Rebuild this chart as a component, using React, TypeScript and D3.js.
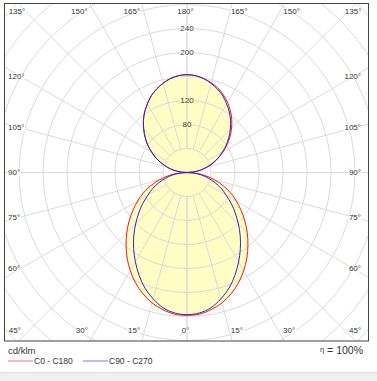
import React, { useEffect, useRef } from 'react';
import * as d3 from 'd3';

// gamma angles (0 = straight down, 180 = straight up)
const GAMMA = [0, 5, 10, 15, 20, 25, 30, 35, 40, 45, 50, 55, 60, 65, 70, 75, 80, 85, 90,
  95, 100, 105, 110, 115, 120, 125, 130, 135, 140, 145, 150, 155, 160, 165, 170, 175, 180];

// cd/klm
const C0 = [238, 237, 232, 225, 215, 203, 189, 174, 158, 142, 126, 110, 95, 80, 64, 48, 32, 16, 0,
  12, 23, 35, 47, 58, 70, 82, 94, 105, 116, 126, 135, 143, 150, 155, 159, 162, 163];
const C180 = [238, 237, 232, 225, 215, 203, 189, 174, 158, 142, 126, 110, 95, 80, 64, 48, 32, 16, 0,
  11, 23, 34, 45, 57, 68, 80, 91, 102, 113, 123, 132, 141, 148, 154, 159, 162, 163];
const C90 = [237, 235, 229, 218, 205, 189, 172, 155, 138, 121, 105, 90, 75, 63, 50, 37, 25, 12, 0,
  11, 23, 34, 45, 57, 68, 80, 91, 102, 113, 123, 132, 141, 148, 154, 159, 162, 163];
const C270 = [237, 235, 229, 218, 205, 189, 172, 155, 138, 121, 105, 90, 75, 63, 50, 37, 25, 12, 0,
  11, 23, 34, 45, 57, 68, 80, 91, 102, 113, 123, 132, 141, 148, 154, 159, 162, 163];

const RINGS = [40, 80, 120, 160, 200, 240, 280, 320, 360, 400, 440];
const RING_LABELS = [80, 120, 200, 240];
const RAY_ANGLES = [0, 15, 30, 45, 60, 75, 90, 105, 120, 135, 150, 165, 180];
const UNIT = 'cd/klm';
const SERIES_NAMES = ['C0 - C180', 'C90 - C270'];
const ETA = '100%';

const W = 377, H = 381;
const FONT = '"Liberation Sans", Arial, sans-serif';

export default function App() {
  const ref = useRef<SVGSVGElement>(null);
  useEffect(() => {
    const svg = d3.select(ref.current);
    svg.selectAll('*').remove();
    const fx0 = 4, fx1 = 369, fy0 = 3, fy1 = 341.5;
    const cx = 187, cy = 172.5;
    const r = d3.scaleLinear().domain([0, 40]).range([0, 24]);

    svg.append('rect').attr('width', W).attr('height', H).attr('fill', '#fff');
    svg.append('rect').attr('x', 0).attr('y', 372.5).attr('width', W).attr('height', H - 372.5).attr('fill', '#f0f0f0');
    svg.append('line').attr('x1', 0).attr('x2', W).attr('y1', 372.5).attr('y2', 372.5).attr('stroke', '#e4e4e4');

    const defs = svg.append('defs');
    defs.append('clipPath').attr('id', 'frame').append('rect')
      .attr('x', fx0).attr('y', fy0).attr('width', fx1 - fx0).attr('height', fy1 - fy0);

    const g = svg.append('g').attr('clip-path', 'url(#frame)');
    const pg = g.append('g').attr('transform', `translate(${cx},${cy})`);

    const toRad = (d: number) => d * Math.PI / 180;
    const buildPts = (right: number[], left: number[]) => {
      const pts: [number, number][] = [];
      GAMMA.forEach((gm, i) => pts.push([Math.PI - toRad(gm), r(right[i])]));
      for (let i = GAMMA.length - 2; i >= 1; i--) pts.push([Math.PI + toRad(GAMMA[i]), r(left[i])]);
      return pts;
    };
    const line = d3.lineRadial<[number, number]>()
      .angle(d => d[0]).radius(d => d[1]).curve(d3.curveCatmullRomClosed.alpha(0.5));
    const red = buildPts(C0, C180);
    const blue = buildPts(C90, C270);

    const fillC = '#fffcc4';
    pg.append('path').attr('d', line(red)).attr('fill', fillC);
    pg.append('path').attr('d', line(blue)).attr('fill', fillC);

    const gridC = '#dadada';
    RINGS.forEach(v => {
      pg.append('circle').attr('r', r(v)).attr('fill', 'none').attr('stroke', gridC).attr('stroke-width', 1);
    });
    const r0 = r(RINGS[0]);
    RAY_ANGLES.forEach(a => {
      [1, -1].forEach(s => {
        const ang = toRad(a);
        pg.append('line')
          .attr('x1', s * Math.sin(ang) * r0).attr('y1', Math.cos(ang) * r0)
          .attr('x2', s * Math.sin(ang) * 400).attr('y2', Math.cos(ang) * 400)
          .attr('stroke', gridC).attr('stroke-width', 1);
      });
    });

    pg.append('path').attr('d', line(red)).attr('fill', 'none').attr('stroke', '#f01818').attr('stroke-width', 1);
    pg.append('path').attr('d', line(blue)).attr('fill', 'none').attr('stroke', '#3322cc').attr('stroke-width', 1);

    const lbl = svg.append('g').attr('font-family', FONT).attr('fill', '#333');
    const addLabel = (text: string, x: number, y: number, anchor: string, size: number, bg: string | null) => {
      const t = lbl.append('text').attr('x', x).attr('y', y).attr('text-anchor', anchor)
        .attr('dominant-baseline', 'central').attr('font-size', size).text(text);
      if (bg) {
        const bb = (t.node() as SVGTextElement).getBBox();
        lbl.insert('rect', () => t.node() as any)
          .attr('x', bb.x - 0.5).attr('y', y - size * 0.4).attr('width', bb.width + 1).attr('height', size * 0.8)
          .attr('fill', bg);
      }
    };

    // ring labels along the upward axis
    const topI = C0[C0.length - 1];
    RING_LABELS.forEach(v => {
      addLabel(String(v), cx, cy - r(v), 'middle', 8, v < topI ? fillC : '#fff');
    });

    // angle labels
    RAY_ANGLES.forEach(a => {
      [1, -1].forEach(s => {
        if ((a === 0 || a === 180) && s === -1) return;
        const ang = toRad(a);
        const dx = s * Math.sin(ang), dy = Math.cos(ang);
        const txt = `${a}°`;
        const tSide = dx !== 0 ? (s > 0 ? (354 - cx) / dx : (20 - cx) / dx) : Infinity;
        const tTop = dy < 0 ? (11 - cy) / dy : Infinity;
        const tBot = dy > 0 ? (330.5 - cy) / dy : Infinity;
        const tm = Math.min(tSide, tTop, tBot);
        if (tm === tSide) {
          const y = cy + tSide * dy;
          if (s < 0) addLabel(txt, 8, y, 'start', 8, '#fff');
          else addLabel(txt, 361, y, 'end', 8, '#fff');
        } else {
          const yEdge = dy < 0 ? fy0 : fy1;
          const yT = dy < 0 ? 11 : 330.5;
          const xi = cx + ((yEdge - cy) / dy) * dx;
          if (a === 0 || a === 180) addLabel(txt, cx - 1.5, yT, 'middle', 8, '#fff');
          else if (s < 0) {
            const w = txt.length * 4.3;
            addLabel(txt, Math.max(xi - 1.5, 8 + w), yT, 'end', 8, '#fff');
          } else {
            const w = txt.length * 4.3;
            addLabel(txt, Math.min(xi - 1.5, 362 - w), yT, 'start', 8, '#fff');
          }
        }
      });
    });

    svg.append('rect').attr('x', fx0 + 0.5).attr('y', fy0 + 0.5).attr('width', fx1 - fx0 - 1).attr('height', fy1 - fy0 - 1)
      .attr('fill', 'none').attr('stroke', '#444').attr('stroke-width', 1);

    // legend
    const lg = svg.append('g').attr('font-family', FONT).attr('fill', '#333');
    lg.append('text').attr('x', 8).attr('y', 353.5).attr('font-size', 9.5).text(UNIT);
    const legColors = ['#f4a3ab', '#a9a3ee'];
    const legX = [8, 83];
    SERIES_NAMES.forEach((n, i) => {
      lg.append('line').attr('x1', legX[i]).attr('x2', legX[i] + 25).attr('y1', 361).attr('y2', 361)
        .attr('stroke', legColors[i]).attr('stroke-width', 1.5);
      lg.append('text').attr('x', legX[i] + 26).attr('y', 364.3).attr('font-size', 8.5).text(n);
    });
    const eta = lg.append('text').attr('x', 363).attr('y', 354.3).attr('text-anchor', 'end').attr('font-size', 10.5);
    eta.append('tspan').attr('font-size', 7.5).attr('dy', -2).text('η');
    eta.append('tspan').attr('dy', 2).text(` = ${ETA}`);
  }, []);
  return (
    <svg ref={ref} width={W} height={H}
      style={{ position: 'absolute', left: 0, top: 0, display: 'block' }} />
  );
}
